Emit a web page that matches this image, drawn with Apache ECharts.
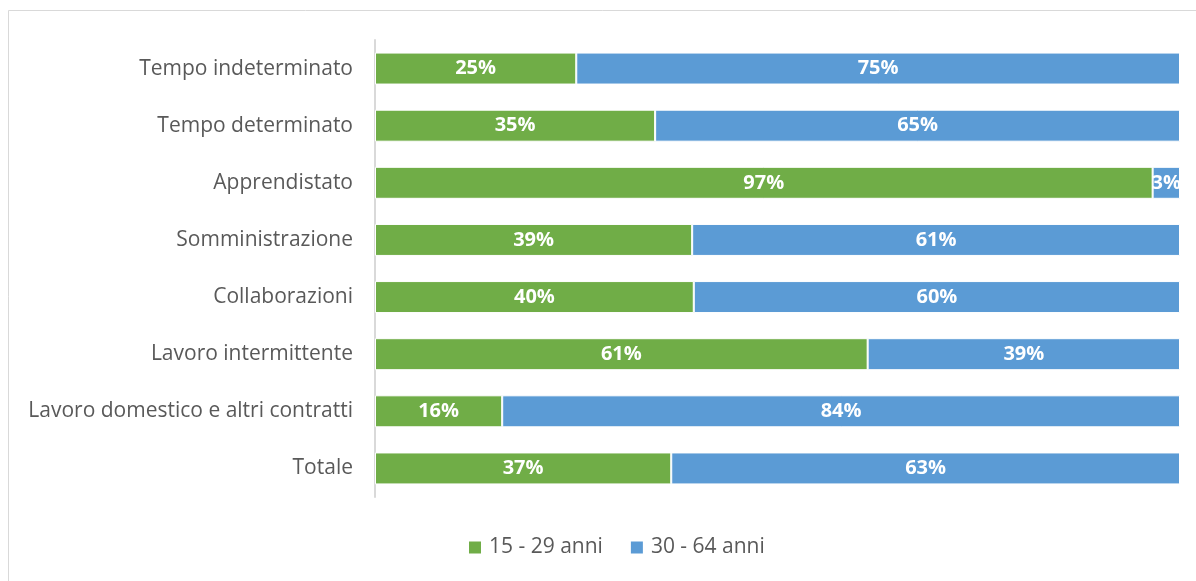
<!DOCTYPE html>
<html>
<head>
<meta charset="utf-8">
<script src="https://cdn.jsdelivr.net/npm/echarts@6/dist/echarts.min.js"></script>
<style>html,body{margin:0;padding:0;background:#fff;}#c{width:1196px;height:581px;}</style>
</head>
<body>
<div id="c"></div>
<script>
const categories = ["Tempo indeterminato","Tempo determinato","Apprendistato","Somministrazione","Collaborazioni","Lavoro intermittente","Lavoro domestico e altri contratti","Totale"];
const seriesNames = ["15 - 29 anni","30 - 64 anni"];
const young = [25.0, 34.8, 96.6, 39.4, 39.6, 61.2, 15.8, 36.8];
const old = [75.0, 65.2, 3.4, 60.6, 60.4, 38.8, 84.2, 63.2];

const FONT = "'Open Sans', sans-serif";
const chart = echarts.init(document.getElementById('c'), null, {renderer:'canvas'});
const lbl = {
  show: true, position: 'inside', color: '#fff', fontWeight: 'bold', fontSize: 20,
  fontFamily: FONT,
  formatter: p => Math.round(p.value) + '%'
};
chart.setOption({
  animation: false,
  backgroundColor: '#fff',
  graphic: [{type:'rect', shape:{x:8.5,y:10.5,width:1200,height:600}, style:{fill:'none', stroke:'#d9d9d9', lineWidth:1}, silent:true}],
  grid: {left: 375, right: 16, top: 40, bottom: 84},
  legend: {
    data: seriesNames, bottom: 18, left: 462, itemWidth: 14, itemHeight: 14, itemGap: 26,
    icon: 'rect',
    textStyle: {color: '#595959', fontSize: 21, fontFamily: FONT, padding: [0,0,0,2]}
  },
  xAxis: {type: 'value', min: 0, max: 100, show: false},
  yAxis: {
    type: 'category', data: categories, inverse: true,
    axisLine: {show: true, lineStyle: {color: '#d9d9d9', width: 2}},
    axisTick: {show: false},
    axisLabel: {color: '#595959', fontSize: 21, margin: 22, fontFamily: FONT}
  },
  series: [
    {name: seriesNames[0], type: 'bar', stack: 'a', data: young, barCategoryGap: '44%',
     itemStyle: {color: '#70ad47', borderColor: '#fff', borderWidth: 1}, label: lbl},
    {name: seriesNames[1], type: 'bar', stack: 'a', data: old, barCategoryGap: '44%',
     itemStyle: {color: '#5b9bd5', borderColor: '#fff', borderWidth: 1},
     label: Object.assign({}, lbl)}
  ]
});
</script>
</body>
</html>
